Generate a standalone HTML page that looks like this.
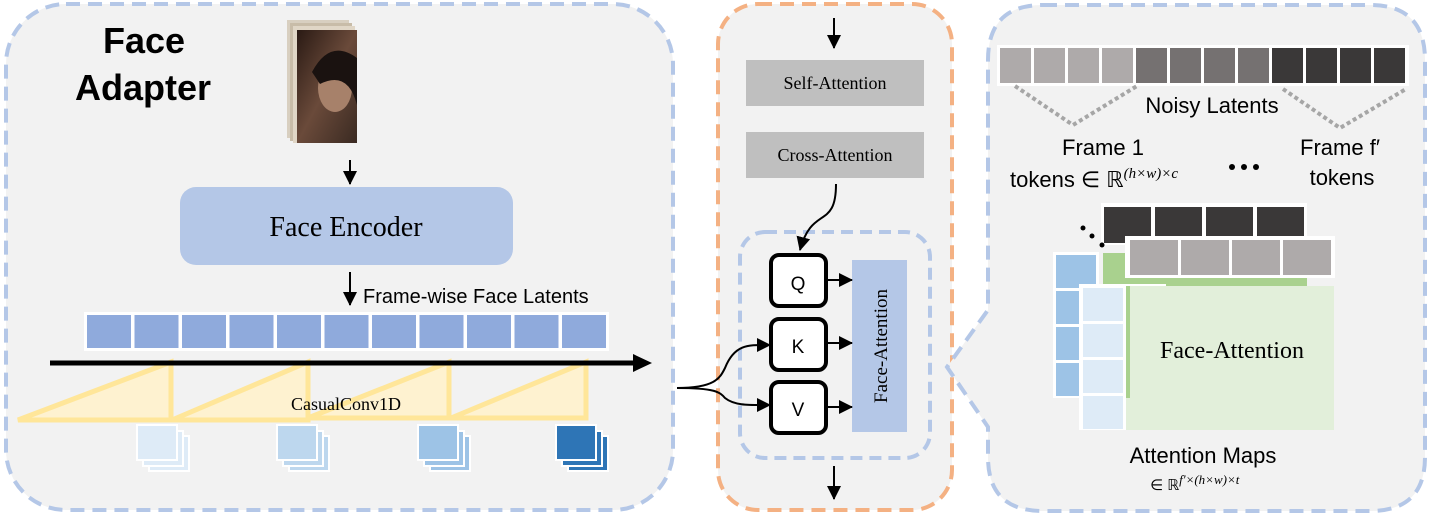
<!DOCTYPE html>
<html><head><meta charset="utf-8"><style>
html,body{margin:0;padding:0;background:#fff;}
svg{display:block;}
.s{font-family:"Liberation Sans","DejaVu Sans",sans-serif;}
.r{font-family:"Liberation Serif","DejaVu Serif",serif;}
</style></head><body>
<svg width="1434" height="522" viewBox="0 0 1434 522" xmlns="http://www.w3.org/2000/svg">
<defs>
<marker id="ah" markerWidth="12" markerHeight="12" refX="11" refY="6" orient="auto" markerUnits="userSpaceOnUse"><path d="M0,0 L12,6 L0,12 Z" fill="#000"/></marker>
<marker id="ahb" markerWidth="14" markerHeight="14" refX="13" refY="7" orient="auto" markerUnits="userSpaceOnUse"><path d="M0,0 L14,7 L0,14 Z" fill="#000"/></marker>
<linearGradient id="face" x1="0" y1="0" x2="1" y2="1"><stop offset="0" stop-color="#2a1a14"/><stop offset="0.5" stop-color="#6a4a3a"/><stop offset="1" stop-color="#3a2a22"/></linearGradient>
</defs>
<!-- Left panel -->
<rect x="6" y="4" width="667" height="506" rx="60" fill="#f2f2f2" stroke="#b4c7e7" stroke-width="4" stroke-dasharray="14,8"/>
<text class="s" x="103" y="53" font-size="36" font-weight="bold">Face</text>
<text class="s" x="75" y="100" font-size="36" font-weight="bold">Adapter</text>
<!-- face image stack -->
<rect x="287" y="20" width="62" height="118" fill="#d8cfc0"/>
<rect x="290" y="23" width="62" height="118" fill="#c8bca8"/>
<rect x="293" y="26" width="62" height="117" fill="#e0d6c6"/>
<rect x="297" y="30" width="60" height="113" fill="url(#face)"/>
<ellipse cx="335" cy="88" rx="17" ry="24" fill="#a7816a"/>
<path d="M312,72 Q330,38 357,58 L357,105 Q348,70 320,84 Z" fill="#1a1210"/>
<!-- arrows -->
<line x1="350" y1="160" x2="350" y2="184" stroke="#000" stroke-width="2" marker-end="url(#ahb)"/>
<rect x="180" y="187" width="333" height="78" rx="16" fill="#b4c7e7"/>
<text class="r" x="346" y="236" font-size="28" text-anchor="middle">Face Encoder</text>
<line x1="350" y1="272" x2="350" y2="305" stroke="#000" stroke-width="2" marker-end="url(#ahb)"/>
<text class="s" x="363" y="303" font-size="20">Frame-wise Face Latents</text>
<!-- latent bar -->
<rect x="84" y="312" width="525" height="39" fill="#fff"/>
<g fill="#8faadc">
<rect x="87" y="315" width="44" height="33"/><rect x="134.5" y="315" width="44" height="33"/><rect x="182" y="315" width="44" height="33"/><rect x="229.5" y="315" width="44" height="33"/><rect x="277" y="315" width="44" height="33"/><rect x="324.5" y="315" width="44" height="33"/><rect x="372" y="315" width="44" height="33"/><rect x="419.5" y="315" width="44" height="33"/><rect x="467" y="315" width="44" height="33"/><rect x="514.5" y="315" width="44" height="33"/><rect x="562" y="315" width="44" height="33"/>
</g>
<!-- triangles -->
<g fill="#fff2cc" fill-opacity="0.9" stroke="#ffe699" stroke-width="5" stroke-linejoin="miter">
<path d="M18,420 L171,362 L171,420 Z"/>
<path d="M172,420 L308,362 L308,420 Z"/>
<path d="M308,418 L449,362 L449,418 Z"/>
<path d="M451,418 L586,362 L586,418 Z"/>
</g>
<line x1="50" y1="363" x2="640" y2="363" stroke="#000" stroke-width="5"/>
<path d="M633,354 L652,363 L633,372 Z" fill="#000"/>
<text class="r" x="346" y="410" font-size="18" text-anchor="middle">CasualConv1D</text>
<!-- icons -->
<g stroke="#fff" stroke-width="2">
<g fill="#deebf7"><rect x="149" y="436" width="40" height="35"/><rect x="143" y="431" width="40" height="35"/><rect x="137" y="425" width="40" height="35"/></g>
<g fill="#bdd7ee"><rect x="289" y="436" width="40" height="35"/><rect x="283" y="431" width="40" height="35"/><rect x="277" y="425" width="40" height="35"/></g>
<g fill="#9dc3e6"><rect x="430" y="436" width="40" height="35"/><rect x="424" y="431" width="40" height="35"/><rect x="418" y="425" width="40" height="35"/></g>
<g fill="#2e75b6"><rect x="568" y="436" width="40" height="35"/><rect x="562" y="431" width="40" height="35"/><rect x="556" y="425" width="40" height="35"/></g>
</g>
<!-- Middle panel -->
<rect x="718" y="4" width="234" height="506" rx="40" fill="#f2f2f2" stroke="#f4b183" stroke-width="4" stroke-dasharray="14,8"/>
<line x1="834" y1="18" x2="834" y2="48" stroke="#000" stroke-width="2" marker-end="url(#ahb)"/>
<rect x="746" y="60" width="178" height="46" fill="#bfbfbf"/>
<text class="r" x="835" y="89" font-size="18" text-anchor="middle">Self-Attention</text>
<rect x="746" y="132" width="178" height="46" fill="#bfbfbf"/>
<text class="r" x="835" y="161" font-size="18" text-anchor="middle">Cross-Attention</text>
<rect x="740" y="232" width="190" height="226" rx="25" fill="none" stroke="#b4c7e7" stroke-width="4" stroke-dasharray="12,7"/>
<path d="M836,184 C836,230 812,205 800,250" fill="none" stroke="#000" stroke-width="2" marker-end="url(#ahb)"/>
<g fill="#fff" stroke="#000" stroke-width="4">
<rect x="771" y="255" width="55" height="51" rx="8"/>
<rect x="771" y="319" width="55" height="51" rx="8"/>
<rect x="771" y="382" width="55" height="51" rx="8"/>
</g>
<text class="s" x="798" y="290" font-size="19" text-anchor="middle">Q</text>
<text class="s" x="798" y="353" font-size="19" text-anchor="middle">K</text>
<text class="s" x="798" y="416" font-size="19" text-anchor="middle">V</text>
<rect x="852" y="260" width="55" height="172" fill="#b4c7e7"/>
<text class="r" transform="translate(887,346) rotate(-90)" font-size="19" text-anchor="middle">Face-Attention</text>
<g stroke="#000" stroke-width="2">
<line x1="827" y1="280" x2="852" y2="280" marker-end="url(#ahb)"/>
<line x1="827" y1="343" x2="852" y2="343" marker-end="url(#ahb)"/>
<line x1="827" y1="407" x2="852" y2="407" marker-end="url(#ahb)"/>
</g>
<path d="M677,388 C715,388 720,378 725,368 C735,343 750,345 770,345" fill="none" stroke="#000" stroke-width="2" marker-end="url(#ahb)"/>
<path d="M677,388 C715,388 720,392 725,398 C735,406 750,405 770,405" fill="none" stroke="#000" stroke-width="2" marker-end="url(#ahb)"/>
<line x1="834" y1="466" x2="834" y2="499" stroke="#000" stroke-width="2" marker-end="url(#ahb)"/>
<!-- Right panel -->
<path d="M1043,5 L1370,5 Q1425,5 1425,60 L1425,457 Q1425,511 1370,511 L1043,511 Q988,511 988,457 L988,427 L947,367 L988,310 L988,60 Q988,5 1043,5 Z" fill="#f2f2f2" stroke="#b4c7e7" stroke-width="4" stroke-dasharray="14,8"/>
<rect x="997" y="45" width="412" height="41" fill="#fff"/>
<g>
<rect x="1000" y="48" width="31" height="35" fill="#aeaaaa"/><rect x="1034" y="48" width="31" height="35" fill="#aeaaaa"/><rect x="1068" y="48" width="31" height="35" fill="#aeaaaa"/><rect x="1102" y="48" width="31" height="35" fill="#aeaaaa"/>
<rect x="1136" y="48" width="31" height="35" fill="#757171"/><rect x="1170" y="48" width="31" height="35" fill="#757171"/><rect x="1204" y="48" width="31" height="35" fill="#757171"/><rect x="1238" y="48" width="31" height="35" fill="#757171"/>
<rect x="1272" y="48" width="31" height="35" fill="#3a3838"/><rect x="1306" y="48" width="31" height="35" fill="#3a3838"/><rect x="1340" y="48" width="31" height="35" fill="#3a3838"/><rect x="1374" y="48" width="31" height="35" fill="#3a3838"/>
</g>
<g fill="none" stroke="#a6a6a6" stroke-width="4" stroke-dasharray="4,3">
<path d="M1015,86 L1073,125 L1137,86"/>
<path d="M1283,89 L1340,128 L1406,89"/>
</g>
<text class="s" x="1212" y="113" font-size="22" text-anchor="middle">Noisy Latents</text>
<text class="s" x="1103" y="155" font-size="22" text-anchor="middle">Frame 1</text>
<text class="s" x="1010" y="187" font-size="22">tokens ∈ ℝ<tspan font-size="15" dy="-9" font-style="italic" font-family="Liberation Serif, serif">(h×w)×c</tspan></text>
<g fill="#000"><circle cx="1232" cy="167" r="3"/><circle cx="1244" cy="167" r="3"/><circle cx="1256" cy="167" r="3"/></g>
<text class="s" x="1340" y="155" font-size="22" text-anchor="middle">Frame f′</text>
<text class="s" x="1342" y="185" font-size="22" text-anchor="middle">tokens</text>
<!-- attention maps -->
<rect x="1101" y="203" width="206" height="42" fill="#fff"/>
<g fill="#3a3838"><rect x="1104" y="207" width="47" height="36"/><rect x="1155" y="207" width="47" height="36"/><rect x="1206" y="207" width="47" height="36"/><rect x="1257" y="207" width="47" height="36"/></g>
<g fill="#000"><circle cx="1083" cy="228" r="2.5"/><circle cx="1092" cy="236" r="2.5"/><circle cx="1102" cy="245" r="2.5"/></g>
<rect x="1103" y="253" width="204" height="143" fill="#a9d18e"/>
<rect x="1053" y="252" width="46" height="146" fill="#fff"/>
<g fill="#9dc3e6"><rect x="1056" y="255" width="40" height="33"/><rect x="1056" y="291" width="40" height="33"/><rect x="1056" y="327" width="40" height="33"/><rect x="1056" y="363" width="40" height="33"/></g>
<rect x="1125" y="236" width="210" height="42" fill="#fff"/>
<g fill="#aeaaaa"><rect x="1130" y="240" width="48" height="35" /><rect x="1181" y="240" width="48" height="35"/><rect x="1232" y="240" width="48" height="35"/><rect x="1283" y="240" width="48" height="35"/></g>
<rect x="1079" y="284" width="87" height="146" fill="#fff"/>
<g fill="#deebf7"><rect x="1083" y="288" width="40" height="33"/><rect x="1083" y="324" width="40" height="33"/><rect x="1083" y="360" width="40" height="33"/><rect x="1083" y="396" width="40" height="33"/></g>
<rect x="1126" y="286" width="208" height="144" fill="#e2efda"/>
<rect x="1126" y="286" width="4" height="112" fill="#a9d18e"/>
<text class="r" x="1232" y="358" font-size="24" text-anchor="middle">Face-Attention</text>
<text class="s" x="1203" y="463" font-size="22" text-anchor="middle">Attention Maps</text>
<text class="s" x="1150" y="490" font-size="15">∈ ℝ<tspan font-style="italic" font-family="Liberation Serif, serif" dy="-6" font-size="13">f′×(h×w)×t</tspan></text>
</svg>
</body></html>
